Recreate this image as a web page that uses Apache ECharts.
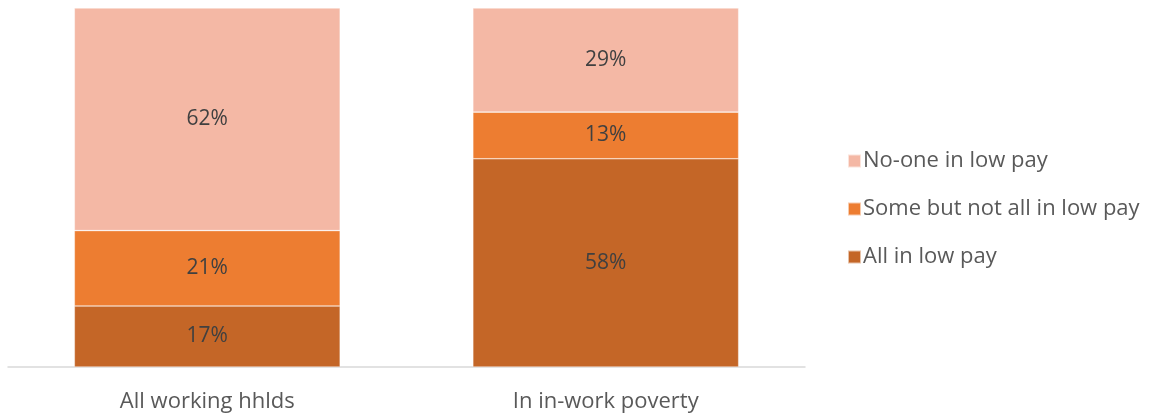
<!DOCTYPE html>
<html>
<head>
<meta charset="utf-8">
<script src="https://cdn.jsdelivr.net/npm/echarts@6/dist/echarts.min.js"></script>
<style>
  html, body { margin: 0; padding: 0; background: #fff; }
  #chart { width: 1171px; height: 416px; }
</style>
</head>
<body>
<div id="chart"></div>
<script>
const categories = ['All working hhlds', 'In in-work poverty'];
const allLowPay = [17, 58];
const someLowPay = [21, 13];
const noneLowPay = [62, 29];
const seriesNames = ['All in low pay', 'Some but not all in low pay', 'No-one in low pay'];
const seriesColors = ['#C46627', '#ED7D31', '#F4B8A5'];
const legendOrder = ['No-one in low pay', 'Some but not all in low pay', 'All in low pay'];

const FONT = '"Open Sans", Lato, sans-serif';

function barSeries(name, data, color) {
  return {
    name: name,
    type: 'bar',
    stack: 'total',
    barWidth: '66.7%',
    data: data,
    itemStyle: { color: color, borderColor: 'rgba(255,255,255,0.6)', borderWidth: 0.6 },
    label: {
      show: true,
      position: 'inside',
      formatter: '{c}%',
      color: '#404040',
      fontSize: 21,
      fontFamily: FONT
    }
  };
}

const chart = echarts.init(document.getElementById('chart'));
chart.setOption({
  animation: false,
  grid: { left: 8, right: 366, top: 8, bottom: 49 },
  legend: {
    data: legendOrder,
    orient: 'vertical',
    left: 842,
    top: 145,
    itemWidth: 13,
    itemHeight: 13,
    itemGap: 26,
    icon: 'rect',
    textStyle: { color: '#595959', fontSize: 22, fontFamily: FONT, padding: [0, 0, 0, -3] }
  },
  xAxis: {
    type: 'category',
    data: categories,
    axisLine: { lineStyle: { color: '#D9D9D9', width: 1.5 } },
    axisTick: { show: false },
    axisLabel: { color: '#595959', fontSize: 22, fontFamily: FONT, margin: 24 }
  },
  yAxis: {
    type: 'value',
    min: 0,
    max: 100,
    show: false,
    splitLine: { show: false }
  },
  series: [
    barSeries(seriesNames[0], allLowPay, seriesColors[0]),
    barSeries(seriesNames[1], someLowPay, seriesColors[1]),
    barSeries(seriesNames[2], noneLowPay, seriesColors[2])
  ]
});
</script>
</body>
</html>
